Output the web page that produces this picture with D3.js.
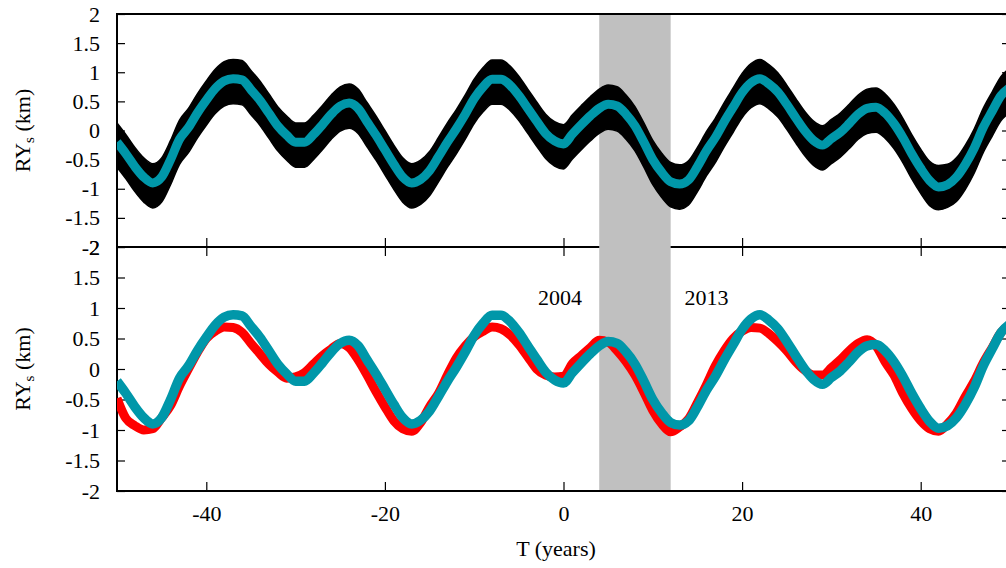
<!DOCTYPE html>
<html>
<head>
<meta charset="utf-8">
<script src="https://cdn.jsdelivr.net/npm/d3@7"></script>
<style>
  body { margin: 0; background: #fff; }
  text { font-family: "Liberation Serif", "Times New Roman", serif; }
</style>
</head>
<body>
<div id="display"></div>
<script>
// sampling grid (years)
const years = d3.range(-50, 51)

// model mean (cyan), one value per year from -50 to 50
const modelMean = [
  -0.20, -0.40, -0.62, -0.80, -0.90, -0.80, -0.50, -0.15, 0.05, 0.30,
  0.52, 0.72, 0.85, 0.89, 0.87, 0.70, 0.52, 0.30, 0.08, -0.08,
  -0.20, -0.20, -0.07, 0.10, 0.28, 0.42, 0.47, 0.38, 0.15, -0.08,
  -0.33, -0.58, -0.80, -0.90, -0.84, -0.69, -0.45, -0.20, 0.03, 0.28,
  0.55, 0.75, 0.88, 0.88, 0.78, 0.60, 0.38, 0.16, -0.05, -0.18,
  -0.23, -0.06, 0.10, 0.25, 0.38, 0.45, 0.42, 0.28, 0.08, -0.20,
  -0.50, -0.72, -0.88, -0.92, -0.85, -0.62, -0.35, -0.12, 0.15, 0.40,
  0.65, 0.82, 0.89, 0.80, 0.66, 0.45, 0.22, 0.00, -0.17, -0.25,
  -0.14, -0.03, 0.12, 0.28, 0.38, 0.40, 0.30, 0.12, -0.12, -0.40,
  -0.65, -0.86, -0.97, -0.93, -0.80, -0.58, -0.30, 0.05, 0.33, 0.60,
  0.74
]

// upper edge of black spread band
const bandHigh = [
  0.13, -0.07, -0.29, -0.47, -0.57, -0.47, -0.17, 0.18, 0.38, 0.63,
  0.85, 1.05, 1.18, 1.22, 1.20, 1.03, 0.85, 0.63, 0.41, 0.25,
  0.13, 0.13, 0.26, 0.43, 0.61, 0.75, 0.80, 0.71, 0.48, 0.25,
  0.00, -0.25, -0.47, -0.57, -0.51, -0.36, -0.12, 0.13, 0.36, 0.61,
  0.88, 1.08, 1.21, 1.21, 1.11, 0.93, 0.71, 0.49, 0.28, 0.15,
  0.10, 0.27, 0.43, 0.58, 0.71, 0.78, 0.75, 0.61, 0.41, 0.13,
  -0.17, -0.39, -0.55, -0.59, -0.52, -0.29, -0.02, 0.21, 0.48, 0.73,
  0.98, 1.15, 1.22, 1.13, 0.99, 0.78, 0.55, 0.33, 0.16, 0.08,
  0.19, 0.30, 0.45, 0.61, 0.71, 0.73, 0.63, 0.45, 0.21, -0.07,
  -0.32, -0.53, -0.60, -0.58, -0.47, -0.25, 0.03, 0.38, 0.66, 0.93,
  1.07
]

// lower edge of black spread band
const bandLow = [
  -0.63, -0.83, -1.05, -1.23, -1.33, -1.23, -0.93, -0.58, -0.38, -0.13,
  0.09, 0.29, 0.42, 0.46, 0.44, 0.27, 0.09, -0.13, -0.35, -0.51,
  -0.63, -0.63, -0.50, -0.33, -0.15, -0.01, 0.04, -0.05, -0.28, -0.51,
  -0.76, -1.01, -1.23, -1.33, -1.27, -1.12, -0.88, -0.63, -0.40, -0.15,
  0.12, 0.32, 0.45, 0.45, 0.35, 0.17, -0.05, -0.27, -0.48, -0.61,
  -0.66, -0.49, -0.33, -0.18, -0.05, 0.02, -0.01, -0.15, -0.35, -0.63,
  -0.93, -1.15, -1.31, -1.35, -1.28, -1.05, -0.78, -0.55, -0.28, -0.03,
  0.22, 0.39, 0.46, 0.37, 0.23, 0.02, -0.21, -0.43, -0.60, -0.68,
  -0.57, -0.46, -0.31, -0.15, -0.05, -0.03, -0.13, -0.31, -0.55, -0.83,
  -1.08, -1.29, -1.36, -1.32, -1.22, -1.01, -0.73, -0.38, -0.10, 0.17,
  0.31
]

// observed series (red), bottom panel
const observed = [
  -0.48, -0.81, -0.93, -1.00, -0.98, -0.80, -0.60, -0.28, 0.00, 0.27,
  0.50, 0.62, 0.69, 0.68, 0.60, 0.42, 0.25, 0.08, -0.05, -0.15,
  -0.13, -0.06, 0.08, 0.22, 0.33, 0.42, 0.35, 0.15, -0.10, -0.37,
  -0.62, -0.85, -0.98, -1.02, -0.88, -0.62, -0.40, -0.10, 0.18, 0.38,
  0.53, 0.62, 0.69, 0.66, 0.56, 0.40, 0.20, 0.00, -0.10, -0.13,
  -0.12, 0.09, 0.22, 0.35, 0.47, 0.44, 0.30, 0.12, -0.10, -0.38,
  -0.68, -0.90, -1.03, -0.95, -0.82, -0.55, -0.26, 0.05, 0.30, 0.50,
  0.62, 0.68, 0.67, 0.58, 0.45, 0.30, 0.12, -0.02, -0.10, -0.10,
  0.02, 0.15, 0.30, 0.42, 0.48, 0.38, 0.12, -0.10, -0.40, -0.65,
  -0.85, -0.98, -1.02, -0.90, -0.72, -0.45, -0.20, 0.10, 0.35, 0.60,
  0.72
]

const xTicks = [-40, -20, 0, 20, 40]
const yTicks = [-2, -1.5, -1, -0.5, 0, 0.5, 1, 1.5, 2]
const shadeYears = [4, 12]
const eventLabels = [{text: '2004', year: -0.4}, {text: '2013', year: 16}]

const width = 1006, height = 568
const left = 117, right = 1010

const svg = d3.select('#display').append('svg')
    .attr('width', width)
    .attr('height', height)

const xScale = d3.scaleLinear().domain([-50, 50]).range([left, right])
const panels = [
    {top: 14, bottom: 247},
    {top: 247, bottom: 491}
]
panels.forEach(p => {
    p.y = d3.scaleLinear().domain([-2, 2]).range([p.bottom, p.top])
})

// clip paths
panels.forEach((p, i) => {
    svg.append('clipPath').attr('id', 'clip' + i)
        .append('rect')
        .attr('x', left).attr('y', p.top)
        .attr('width', right - left).attr('height', p.bottom - p.top)
})

// axes
panels.forEach((p, i) => {
    svg.append('g')
        .attr('transform', 'translate(' + left + ',0)')
        .call(d3.axisLeft(p.y).tickValues(yTicks).tickSizeInner(-8).tickSizeOuter(0).tickPadding(17)
            .tickFormat(d3.format('')))
    svg.append('g')
        .attr('transform', 'translate(' + right + ',0)')
        .call(d3.axisRight(p.y).tickValues(yTicks).tickSizeInner(-8).tickSizeOuter(0).tickFormat(''))
    svg.append('g')
        .attr('transform', 'translate(0,' + p.bottom + ')')
        .call(d3.axisBottom(xScale).tickValues(xTicks).tickSizeInner(-9).tickSizeOuter(0)
            .tickPadding(14).tickFormat(i == 1 ? d3.format('') : ''))
    if (i == 1) {
        svg.append('g')
            .attr('transform', 'translate(0,' + p.top + ')')
            .call(d3.axisTop(xScale).tickValues(xTicks).tickSizeInner(-9).tickSizeOuter(0).tickFormat(''))
    }
})
svg.selectAll('.domain').remove()
svg.selectAll('.tick line').attr('stroke', '#000').attr('stroke-width', 1.2)
svg.selectAll('.tick text')
    .style('font-family', '"Liberation Serif", serif')
    .style('font-size', '22px')
    .attr('fill', '#000')
    .text(function() { return this.textContent.replace('−', '-') })

// frames
panels.forEach(p => {
    svg.append('rect')
        .attr('x', left).attr('y', p.top)
        .attr('width', right - left).attr('height', p.bottom - p.top)
        .attr('fill', 'none')
        .attr('stroke', '#000')
        .attr('stroke-width', 2)
})

// shaded interval
svg.append('rect')
    .attr('x', xScale(shadeYears[0]))
    .attr('y', panels[0].top + 1)
    .attr('width', xScale(shadeYears[1]) - xScale(shadeYears[0]))
    .attr('height', panels[1].bottom - panels[0].top - 2)
    .attr('fill', '#c0c0c0')

const curve = d3.curveMonotoneX

// top panel: spread band + mean
const pTop = panels[0], pBot = panels[1]
const gTop = svg.append('g').attr('clip-path', 'url(#clip0)')
gTop.append('path')
    .datum(years)
    .attr('d', d3.area()
        .x(d => xScale(d))
        .y0((d, i) => pTop.y(bandLow[i]))
        .y1((d, i) => pTop.y(bandHigh[i]))
        .curve(curve))
    .attr('fill', '#000')
    .attr('stroke', '#000')
    .attr('stroke-width', 1.5)
gTop.append('path')
    .datum(years)
    .attr('d', d3.line().x(d => xScale(d)).y((d, i) => pTop.y(modelMean[i])).curve(curve))
    .attr('fill', 'none')
    .attr('stroke', '#0097a9')
    .attr('stroke-width', 9)
    .attr('stroke-linejoin', 'round')

// bottom panel: observed + mean
const gBot = svg.append('g').attr('clip-path', 'url(#clip1)')
gBot.append('path')
    .datum(years)
    .attr('d', d3.line().x(d => xScale(d)).y((d, i) => pBot.y(observed[i])).curve(curve))
    .attr('fill', 'none')
    .attr('stroke', '#ff0000')
    .attr('stroke-width', 9)
    .attr('stroke-linejoin', 'round')
gBot.append('path')
    .datum(years)
    .attr('d', d3.line().x(d => xScale(d)).y((d, i) => pBot.y(modelMean[i])).curve(curve))
    .attr('fill', 'none')
    .attr('stroke', '#0097a9')
    .attr('stroke-width', 9.5)
    .attr('stroke-linejoin', 'round')

// event labels
svg.selectAll('.event').data(eventLabels)
    .enter()
    .append('text')
        .attr('x', d => xScale(d.year))
        .attr('y', pBot.y(1.05))
        .attr('text-anchor', 'middle')
        .style('font-size', '22px')
        .text(d => d.text)

// axis titles
panels.forEach(p => {
    const t = svg.append('text')
        .attr('transform', 'translate(30,' + ((p.top + p.bottom) / 2) + ') rotate(-90)')
        .attr('text-anchor', 'middle')
        .style('font-size', '22px')
    t.append('tspan').text('RY')
    t.append('tspan').attr('dy', 4).style('font-size', '15px').text('s')
    t.append('tspan').attr('dy', -4).text(' (km)')
})

svg.append('text')
    .attr('x', 556)
    .attr('y', 556)
    .attr('text-anchor', 'middle')
    .style('font-size', '22px')
    .text('T (years)')
</script>
</body>
</html>
